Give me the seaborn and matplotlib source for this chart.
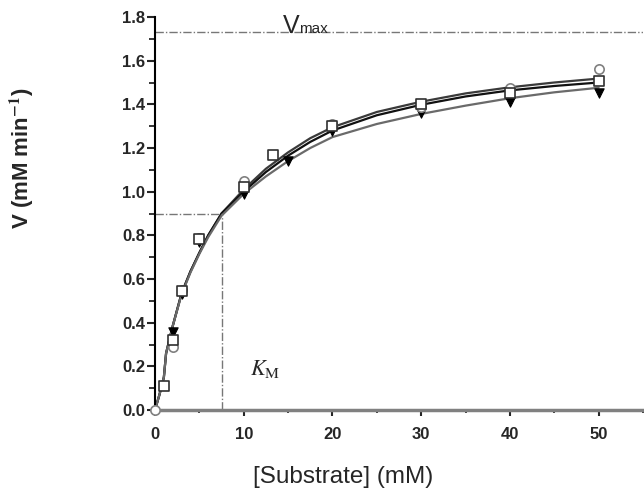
import matplotlib
matplotlib.use("Agg")
import matplotlib.pyplot as plt
import numpy as np
import pandas as pd
import seaborn as sns
from matplotlib.ticker import MultipleLocator

# ---------------------------------------------------------------------------
# data
# ---------------------------------------------------------------------------
circle_x = [0, 2, 3, 5, 10, 20, 30, 40, 50]
circle_v = [0.0, 0.29, 0.55, 0.79, 1.05, 1.31, 1.39, 1.475, 1.56]

square_x = [1, 2, 3, 5, 10, 13.3, 20, 30, 40, 50]
square_v = [0.11, 0.32, 0.545, 0.785, 1.02, 1.17, 1.30, 1.40, 1.45, 1.505]

tri_x = [2, 3, 5, 10, 15, 20, 30, 40, 50]
tri_v = [0.355, 0.53, 0.77, 0.99, 1.14, 1.28, 1.36, 1.41, 1.45]

# fitted curves
curve_x = [0, 0.5, 1, 1.25, 2, 3, 4, 5, 6, 7.5, 10, 12.5, 15, 17.5, 20,
           25, 30, 35, 40, 45, 50]
curve_top = [0, 0.07, 0.15, 0.26, 0.385, 0.535, 0.635, 0.72, 0.80, 0.90,
             1.01, 1.105, 1.18, 1.245, 1.295, 1.365, 1.412, 1.45, 1.478,
             1.50, 1.518]
curve_mid = [0, 0.07, 0.15, 0.26, 0.385, 0.535, 0.635, 0.72, 0.80, 0.90,
             1.0, 1.09, 1.165, 1.228, 1.28, 1.35, 1.398, 1.436, 1.464,
             1.484, 1.50]
curve_low = [0, 0.07, 0.15, 0.26, 0.385, 0.53, 0.63, 0.715, 0.792, 0.89,
             0.99, 1.07, 1.14, 1.20, 1.25, 1.31, 1.356, 1.394, 1.428,
             1.455, 1.476]

vmax = 1.73
km = 7.5
half_v = 0.90

sns.set_style("ticks")
plt.rcParams["font.family"] = ["Liberation Sans", "DejaVu Sans"]
plt.rcParams["mathtext.fontset"] = "stix"

fig = plt.figure(figsize=(6.44, 4.91), dpi=100)
ax = fig.add_axes([155 / 644, 1 - 410 / 491, 488 / 644, 393 / 491])

# curves
curves = pd.DataFrame({
    "x": curve_x * 3,
    "v": curve_top + curve_mid + curve_low,
    "fit": ["top"] * len(curve_x) + ["mid"] * len(curve_x) + ["low"] * len(curve_x),
})
sns.lineplot(data=curves, x="x", y="v", hue="fit",
             palette={"top": "#3a3a3a", "mid": "#111111", "low": "#6a6a6a"},
             linewidth=1.6, legend=False, ax=ax, sort=False)

# guide lines (Vmax, Km)
dash = (0, (6, 1.5, 1, 1.5))
ax.plot([0, 55], [vmax, vmax], color="#777777", lw=1.0, linestyle=dash)
ax.plot([0, km], [half_v, half_v], color="#777777", lw=1.0, linestyle=dash)
ax.plot([km, km], [0, half_v], color="#777777", lw=1.0, linestyle=dash)

# markers
sns.scatterplot(x=circle_x, y=circle_v, marker="o", s=45, facecolor="white",
                edgecolor="#808080", linewidth=1.2, ax=ax, zorder=4, clip_on=False)
sns.scatterplot(x=square_x, y=square_v, marker="s", s=45, facecolor="white",
                edgecolor="#303030", linewidth=1.2, ax=ax, zorder=5, clip_on=False)
sns.scatterplot(x=tri_x, y=tri_v, marker="v", s=45, color="black",
                edgecolor="black", linewidth=0.8, ax=ax, zorder=3, clip_on=False)

ax.set_xlim(0, 55)
ax.set_ylim(0, 1.8)
ax.xaxis.set_major_locator(MultipleLocator(10))
ax.xaxis.set_minor_locator(MultipleLocator(5))
ax.yaxis.set_major_locator(MultipleLocator(0.2))
ax.yaxis.set_minor_locator(MultipleLocator(0.1))
ax.set_yticks(np.arange(0, 1.81, 0.2))
ax.set_yticklabels([f"{v:.1f}" for v in np.arange(0, 1.81, 0.2)])

for s in ["top", "right"]:
    ax.spines[s].set_visible(False)
ax.spines["left"].set_color("black")
ax.spines["left"].set_linewidth(1.5)
ax.spines["bottom"].set_color("#808080")
ax.spines["bottom"].set_linewidth(2.5)

ax.tick_params(axis="y", which="major", direction="out", length=6, width=1.5, pad=1,
               labelsize=12)
ax.tick_params(axis="y", which="minor", direction="out", length=4, width=1.3)
ax.tick_params(axis="x", which="major", direction="out", length=4, width=1.5, pad=8,
               labelsize=12)
ax.tick_params(axis="x", which="minor", direction="out", length=2.5, width=1.3)
for lab in ax.get_xticklabels() + ax.get_yticklabels():
    lab.set_fontweight("bold")

ax.set_xlabel("")
ax.set_ylabel("")
fig.text(343 / 644, 1 - 477 / 491, "[Substrate] (mM)", ha="center", va="center",
         fontsize=17.5)
fig.text(22 / 644, 1 - 158 / 491, r"V (mM min$^{\mathbf{-1}}$)", rotation=90,
         ha="center", va="center", fontsize=16, fontweight="bold")

# Vmax label: big V with a sans "max" right after it
ax.text(14.4, 1.725, "V", fontsize=18, ha="left", va="baseline")
ax.text(16.2, 1.725, "max", fontsize=11, ha="left", va="baseline")
ax.text(10.7, 0.16, r"$K_{\rm M}$", fontsize=16, ha="left", va="baseline")

fig.savefig("out.png", dpi=100)
